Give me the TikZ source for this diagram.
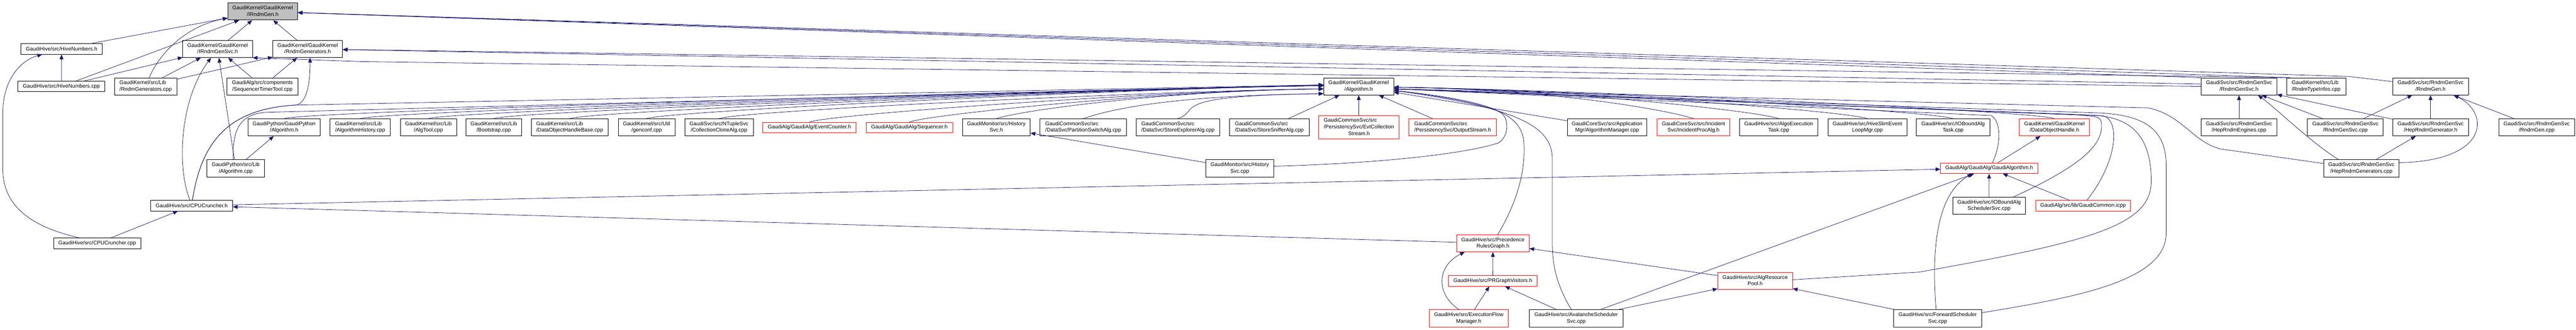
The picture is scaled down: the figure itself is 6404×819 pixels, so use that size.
\documentclass[tikz,border=0pt]{standalone}
\usepackage{fontspec}
\usepackage{tikz}
\usetikzlibrary{arrows.meta}
\newfontfamily\graphfont{Liberation Sans}
\definecolor{depblue}{HTML}{191970}
\definecolor{focusgray}{HTML}{BFBFBF}
\newcommand{\twoln}[2]{\begin{tabular}{@{}l@{}}#1\\\multicolumn{1}{@{}c@{}}{#2}\end{tabular}}
\newcommand{\threeln}[3]{\begin{tabular}{@{}l@{}}#1\\#2\\\multicolumn{1}{@{}c@{}}{#3}\end{tabular}}
\tikzset{
  fnode/.style={draw=black, line width=0.5pt, inner sep=0pt, font=\graphfont\fontsize{6.6}{8.1}\selectfont},
  rnode/.style={fnode, draw=red},
  oneline/.style={minimum height=13pt},
  twoline/.style={minimum height=21.25pt},
  threeline/.style={minimum height=29pt},
  dep/.style={draw=depblue, line width=0.5pt, -{Triangle[length=6pt,width=4.8pt]}}
}

\begin{document}
\begin{tikzpicture}[x=0.5pt, y=-0.5pt]
\useasboundingbox (0,0) rectangle (6404,819);

% top
\node[fnode, twoline, fill=focusgray, minimum width=86.5pt] (irndmgen) at (653,28.5) {\twoln{GaudiKernel/GaudiKernel}{/IRndmGen.h}};

% first rank
\node[fnode, oneline, minimum width=100.8pt] (hivenumh) at (153,121.7) {GaudiHive/src/HiveNumbers.h};
\node[fnode, twoline, minimum width=86.5pt] (irndmgensvc) at (541,121.7) {\twoln{GaudiKernel/GaudiKernel}{/IRndmGenSvc.h}};
\node[fnode, twoline, minimum width=86.5pt] (rndmgensh) at (764.9,121.7) {\twoln{GaudiKernel/GaudiKernel}{/RndmGenerators.h}};

% second rank
\node[fnode, oneline, minimum width=108.2pt] (hivenumcpp) at (152.6,214.7) {GaudiHive/src/HiveNumbers.cpp};
\node[fnode, twoline, minimum width=77.7pt] (libgencpp) at (362,214.7) {\twoln{GaudiKernel/src/Lib}{/RndmGenerators.cpp}};
\node[fnode, twoline, minimum width=88pt] (seqtimer) at (652.4,214.7) {\twoln{GaudiAlg/src/components}{/SequencerTimerTool.cpp}};
\node[fnode, twoline, minimum width=86.8pt] (algh) at (3377.7,214.7) {\twoln{GaudiKernel/GaudiKernel}{/Algorithm.h}};
\node[fnode, twoline, minimum width=94pt] (rndmgensvc) at (5566.2,214.7) {\twoln{GaudiSvc/src/RndmGenSvc}{/RndmGenSvc.h}};
\node[fnode, twoline, minimum width=73.6pt] (rndmtypeinfos) at (5757.8,214.7) {\twoln{GaudiKernel/src/Lib}{/RndmTypeInfos.cpp}};
\node[fnode, twoline, minimum width=94pt] (rndmgen) at (6042.4,214.7) {\twoln{GaudiSvc/src/RndmGenSvc}{/RndmGen.h}};

% third rank
\node[fnode, twoline, minimum width=89.9pt] (gpalgh) at (706.3,316.3) {\twoln{GaudiPython/GaudiPython}{/Algorithm.h}};
\node[fnode, twoline, minimum width=75.1pt] (alghist) at (895.4,316.3) {\twoln{GaudiKernel/src/Lib}{/AlgorithmHistory.cpp}};
\node[fnode, twoline, minimum width=69.7pt] (algtool) at (1065,316.3) {\twoln{GaudiKernel/src/Lib}{/AlgTool.cpp}};
\node[fnode, twoline, minimum width=68.9pt] (bootstrap) at (1227.4,316.3) {\twoln{GaudiKernel/src/Lib}{/Bootstrap.cpp}};
\node[fnode, twoline, minimum width=95.9pt] (dohbase) at (1416.3,316.3) {\twoln{GaudiKernel/src/Lib}{/DataObjectHandleBase.cpp}};
\node[fnode, twoline, minimum width=70.3pt] (genconf) at (1607.6,316.3) {\twoln{GaudiKernel/src/Util}{/genconf.cpp}};
\node[fnode, twoline, minimum width=85pt] (clonealg) at (1787.4,316.3) {\twoln{GaudiSvc/src/NTupleSvc}{/CollectionCloneAlg.cpp}};
\node[rnode, oneline, minimum width=115.9pt] (evtcounter) at (2012.4,316.5) {GaudiAlg/GaudiAlg/EventCounter.h};
\node[rnode, oneline, minimum width=107.6pt] (sequencer) at (2260.7,316.5) {GaudiAlg/GaudiAlg/Sequencer.h};
\node[fnode, twoline, minimum width=84.4pt] (historysvch) at (2476.8,316.3) {\twoln{GaudiMonitor/src/History}{Svc.h}};
\node[fnode, twoline, minimum width=107.6pt] (partswitch) at (2692.9,316.3) {\twoln{GaudiCommonSvc/src}{/DataSvc/PartitionSwitchAlg.cpp}};
\node[fnode, twoline, minimum width=104pt] (storeexpl) at (2928.3,316.3) {\twoln{GaudiCommonSvc/src}{/DataSvc/StoreExplorerAlg.cpp}};
\node[fnode, twoline, minimum width=99pt] (storesniff) at (3155.4,316.3) {\twoln{GaudiCommonSvc/src}{/DataSvc/StoreSnifferAlg.cpp}};
\node[rnode, threeline, minimum width=99.9pt] (evtcollstream) at (3378.4,316.3) {\threeln{GaudiCommonSvc/src}{/PersistencySvc/EvtCollection}{Stream.h}};
\node[rnode, twoline, minimum width=109pt] (outstream) at (3611.4,316.3) {\twoln{GaudiCommonSvc/src}{/PersistencySvc/OutputStream.h}};
\node[fnode, twoline, minimum width=99pt] (algmgr) at (3995.3,316.3) {\twoln{GaudiCoreSvc/src/Application}{Mgr/AlgorithmManager.cpp}};
\node[rnode, twoline, minimum width=90.6pt] (incproc) at (4210,316.3) {\twoln{GaudiCoreSvc/src/Incident}{Svc/IncidentProcAlg.h}};
\node[fnode, twoline, minimum width=97.5pt] (algoexec) at (4421.8,316.3) {\twoln{GaudiHive/src/AlgoExecution}{Task.cpp}};
\node[fnode, twoline, minimum width=98pt] (hiveslim) at (4642.4,316.3) {\twoln{GaudiHive/src/HiveSlimEvent}{LoopMgr.cpp}};
\node[fnode, twoline, minimum width=91pt] (ioboundtask) at (4855.3,316.3) {\twoln{GaudiHive/src/IOBoundAlg}{Task.cpp}};
\node[rnode, twoline, minimum width=87pt] (dohandle) at (5107.4,316.3) {\twoln{GaudiKernel/GaudiKernel}{/DataObjectHandle.h}};
\node[fnode, twoline, minimum width=94pt] (heprndmeng) at (5566.2,316.3) {\twoln{GaudiSvc/src/RndmGenSvc}{/HepRndmEngines.cpp}};
\node[fnode, twoline, minimum width=94.1pt] (rndmgensvccpp) at (5830.5,316.3) {\twoln{GaudiSvc/src/RndmGenSvc}{/RndmGenSvc.cpp}};
\node[fnode, twoline, minimum width=94pt] (hepgenh) at (6042.4,316.3) {\twoln{GaudiSvc/src/RndmGenSvc}{/HepRndmGenerator.h}};
\node[fnode, twoline, minimum width=94pt] (rndmgencpp) at (6306.2,316.3) {\twoln{GaudiSvc/src/RndmGenSvc}{/RndmGen.cpp}};

% fourth rank
\node[fnode, twoline, minimum width=71.5pt] (algcpp) at (586,418) {\twoln{GaudiPython/src/Lib}{/Algorithm.cpp}};
\node[fnode, twoline, minimum width=84.6pt] (historysvccpp) at (3082,418) {\twoln{GaudiMonitor/src/History}{Svc.cpp}};
\node[rnode, oneline, minimum width=120.6pt] (gaudialgh) at (4945,417.9) {GaudiAlg/GaudiAlg/GaudiAlgorithm.h};
\node[fnode, twoline, minimum width=94pt] (hepgencpp) at (5870.3,418) {\twoln{GaudiSvc/src/RndmGenSvc}{/HepRndmGenerators.cpp}};

% lower ranks
\node[fnode, oneline, minimum width=101.9pt] (cpucrunchh) at (476.3,510.8) {GaudiHive/src/CPUCruncher.h};
\node[fnode, twoline, minimum width=90.4pt] (ioboundsched) at (4944.8,510.8) {\twoln{GaudiHive/src/IOBoundAlg}{SchedulerSvc.cpp}};
\node[rnode, oneline, minimum width=118pt] (gaudicommon) at (5178.3,510.8) {GaudiAlg/src/lib/GaudiCommon.icpp};
\node[fnode, oneline, minimum width=108.5pt] (cpucrunchcpp) at (241.8,604.3) {GaudiHive/src/CPUCruncher.cpp};
\node[rnode, twoline, minimum width=89.9pt] (prgh) at (3711.4,604.3) {\twoln{GaudiHive/src/Precedence}{RulesGraph.h}};
\node[rnode, oneline, minimum width=110pt] (prgvis) at (3711.2,697.8) {GaudiHive/src/PRGraphVisitors.h};
\node[rnode, twoline, minimum width=93pt] (algpool) at (4363.3,697.8) {\twoln{GaudiHive/src/AlgResource}{Pool.h}};
\node[rnode, twoline, minimum width=98pt] (efmgr) at (3651.3,790.8) {\twoln{GaudiHive/src/ExecutionFlow}{Manager.h}};
\node[fnode, twoline, minimum width=116pt] (avalanche) at (3918.4,790.8) {\twoln{GaudiHive/src/AvalancheScheduler}{Svc.cpp}};
\node[fnode, twoline, minimum width=109.7pt] (fwdsched) at (4817,790.8) {\twoln{GaudiHive/src/ForwardScheduler}{Svc.cpp}};

% into IRndmGen.h
\draw[dep] (hivenumh) -- (irndmgen);
\draw[dep] (hivenumcpp) -- (irndmgen);
\draw[dep] (libgencpp) .. controls (395,135) and (460,65) .. (irndmgen);
\draw[dep] (irndmgensvc) -- (irndmgen);
\draw[dep] (rndmgensh) -- (irndmgen);
\draw[dep] (rndmgensvc.north west) -- (irndmgen);
\draw[dep] ([xshift=5pt]rndmtypeinfos.north west) -- (irndmgen);
\draw[dep] ([yshift=6pt]rndmgen.west) -- (5840,190) -- (irndmgen);

% into the first rank
\draw[dep] (hivenumcpp) -- (hivenumh);
\draw[dep] (hivenumcpp) -- (irndmgensvc);
\draw[dep] (libgencpp) -- (irndmgensvc);
\draw[dep] (libgencpp) -- (rndmgensh);
\draw[dep] (seqtimer) -- (irndmgensvc);
\draw[dep] (seqtimer) -- (rndmgensh);
\draw[dep] (algcpp) -- (irndmgensvc);
\draw[dep] (algcpp) -- (gpalgh);
\draw[dep] (rndmgensvc.west) -- (900,153) -- (irndmgensvc.south east);
\draw[dep] ([yshift=3pt]rndmgensvc.west) -- (rndmgensh);
\draw[dep] ([xshift=5pt]rndmtypeinfos.north west) -- (rndmgensh);

% CPUCruncher
\draw[dep] ([xshift=-22pt]cpucrunchcpp.north) .. controls (60,560) and (7,500) .. (7,420) -- (7,280) .. controls (7,200) and (50,150) .. ([xshift=-24pt]hivenumh.south);
\draw[dep] (cpucrunchcpp) -- (cpucrunchh);
\draw[dep] ([xshift=-2pt]cpucrunchh.north) .. controls (440,420) and (445,250) .. (irndmgensvc);
\draw[dep] ([xshift=1pt]cpucrunchh.north) .. controls (500,360) and (560,270) .. (736,261) .. controls (765,255) and (771,200) .. ([xshift=3pt]rndmgensh.south);
\draw[dep] ([xshift=1pt]cpucrunchh.north) .. controls (500,360) and (560,270) .. (736,261) -- ([yshift=2pt]algh.west);
\draw[dep] (cpucrunchh) -- (gaudialgh);
\draw[dep] ([xshift=-3pt]algcpp.north) .. controls (578,330) and (590,285) .. (660,279) -- ([yshift=2pt]algh.west);

% into Algorithm.h from the left
\draw[dep] (gpalgh.north) .. controls +(60,-20) and +(-400,5) .. ([yshift=1pt]algh.west);
\draw[dep] (alghist.north) .. controls +(60,-20) and +(-400,5) .. ([yshift=1pt]algh.west);
\draw[dep] (algtool.north) .. controls +(60,-20) and +(-400,5) .. ([yshift=1pt]algh.west);
\draw[dep] (bootstrap.north) .. controls +(60,-20) and +(-400,5) .. ([yshift=1pt]algh.west);
\draw[dep] (dohbase.north) .. controls +(60,-20) and +(-400,5) .. ([yshift=1pt]algh.west);
\draw[dep] (genconf.north) .. controls +(60,-20) and +(-400,5) .. ([yshift=1pt]algh.west);
\draw[dep] (clonealg.north) .. controls +(60,-20) and +(-400,5) .. ([yshift=-3pt]algh.west);
\draw[dep] (evtcounter.north) .. controls +(60,-20) and +(-400,5) .. ([yshift=-3pt]algh.west);
\draw[dep] (sequencer.north) .. controls +(60,-20) and +(-400,5) .. ([yshift=-3pt]algh.west);
\draw[dep] (historysvch.north) .. controls +(60,-20) and +(-400,5) .. ([yshift=-3pt]algh.west);
\draw[dep] (partswitch.north) .. controls +(60,-20) and +(-400,5) .. ([yshift=-9pt]algh.west);
\draw[dep] (storeexpl.north) .. controls +(60,-20) and +(-400,5) .. ([yshift=-9pt]algh.west);
\draw[dep] (storesniff) -- (algh);
\draw[dep] (evtcollstream) -- (algh);
\draw[dep] (outstream) -- (algh);

% into Algorithm.h from the right
\draw[dep] (algmgr) -- (algh);
\draw[dep] (incproc.north) .. controls +(-60,-20) and +(400,5) .. ([yshift=-1pt]algh.east);
\draw[dep] (algoexec.north) .. controls +(-60,-20) and +(400,5) .. ([yshift=-1pt]algh.east);
\draw[dep] (hiveslim.north) .. controls +(-60,-20) and +(400,5) .. ([yshift=-1pt]algh.east);
\draw[dep] (ioboundtask.north) .. controls +(-60,-20) and +(400,5) .. ([yshift=-1pt]algh.east);
\draw[dep] (dohandle.north) .. controls +(-60,-20) and +(400,5) .. ([yshift=-1pt]algh.east);

% history
\draw[dep] (historysvccpp) -- (historysvch);
\draw[dep] ([yshift=2.5pt]historysvccpp.east) .. controls (3450,405) and (3650,380) .. (3725,355) .. controls (3750,340) and (3752,300) .. (3735,283) .. controls (3715,265) and (3600,240) .. ([yshift=-5pt]algh.east);

% precedence graph
\draw[dep] (prgh) -- (cpucrunchh);
\draw[dep] ([xshift=6pt]prgh.north) .. controls (3785,480) and (3792,400) .. (3788,350) .. controls (3780,280) and (3700,250) .. ([yshift=-5pt]algh.east);
\draw[dep] (prgvis) -- (prgh);
\draw[dep] ([xshift=-12pt]efmgr.north) .. controls (3568,730) and (3572,660) .. ([xshift=-35pt]prgh.south);
\draw[dep] (efmgr) -- (prgvis);

% schedulers
\draw[dep] ([xshift=-6pt]avalanche.north) .. controls (3865,700) and (3859,650) .. (3859,600) -- (3859,390) .. controls (3855,320) and (3790,270) .. ([yshift=-5pt]algh.east);
\draw[dep] (avalanche) -- (prgvis);
\draw[dep] (avalanche) -- (gaudialgh);
\draw[dep] (avalanche) -- (algpool);
\draw[dep] (algpool) -- (prgh);
\draw[dep] ([yshift=1.5pt]algpool.east) -- (4770,676) .. controls (5200,600) and (5348,560) .. (5348,450) .. controls (5348,340) and (5300,290) .. (5200,286) -- ([yshift=-3pt]algh.east);
\draw[dep] (fwdsched) -- (algpool);
\draw[dep] ([xshift=-2pt]fwdsched.north) .. controls (4800,600) and (4820,480) .. ([xshift=-21pt]gaudialgh.south);
\draw[dep] ([yshift=7pt]fwdsched.east) .. controls (5150,740) and (5385,700) .. (5385,580) -- (5385,410) .. controls (5385,320) and (5330,282) .. (5200,280) -- ([yshift=-3pt]algh.east);

% GaudiAlgorithm.h
\draw[dep] (gaudialgh) -- (dohandle);
\draw[dep] ([xshift=4pt]gaudialgh.north) .. controls (4975,360) and (4975,300) .. (4950,287) -- ([yshift=-3pt]algh.east);
\draw[dep] (ioboundsched) -- (gaudialgh);
\draw[dep] ([xshift=-15pt]ioboundsched.north east) .. controls (5200,400) and (5228,350) .. (5224,305) .. controls (5220,290) .. (5150,284) -- ([yshift=-3pt]algh.east);
\draw[dep] (gaudicommon) -- (gaudialgh);
\draw[dep] ([xshift=5pt]gaudicommon.north) .. controls (5265,400) and (5270,300) .. (5230,288) -- ([yshift=-3pt]algh.east);

% random generator service
\draw[dep] ([yshift=6pt]hepgencpp.west) -- (5520,370) .. controls (5450,352) and (5425,285) .. (5340,268) -- ([yshift=-3pt]algh.east);
\draw[dep] ([xshift=-28.5pt]hepgencpp.north) .. controls (5740,350) and (5660,270) .. ([xshift=23.5pt]rndmgensvc.south);
\draw[dep] (hepgencpp) -- (hepgenh);
\draw[dep] ([yshift=7pt]hepgencpp.east) .. controls (6190,400) and (6190,280) .. ([xshift=29pt]rndmgen.south);
\draw[dep] (heprndmeng) -- (rndmgensvc);
\draw[dep] (rndmgensvccpp) -- (rndmgensvc);
\draw[dep] (rndmgensvccpp) -- (rndmgen);
\draw[dep] (hepgenh) -- (rndmgensvc);
\draw[dep] (hepgenh) -- (rndmgen);
\draw[dep] (rndmgencpp) -- (rndmgen);

\end{tikzpicture}
\end{document}
